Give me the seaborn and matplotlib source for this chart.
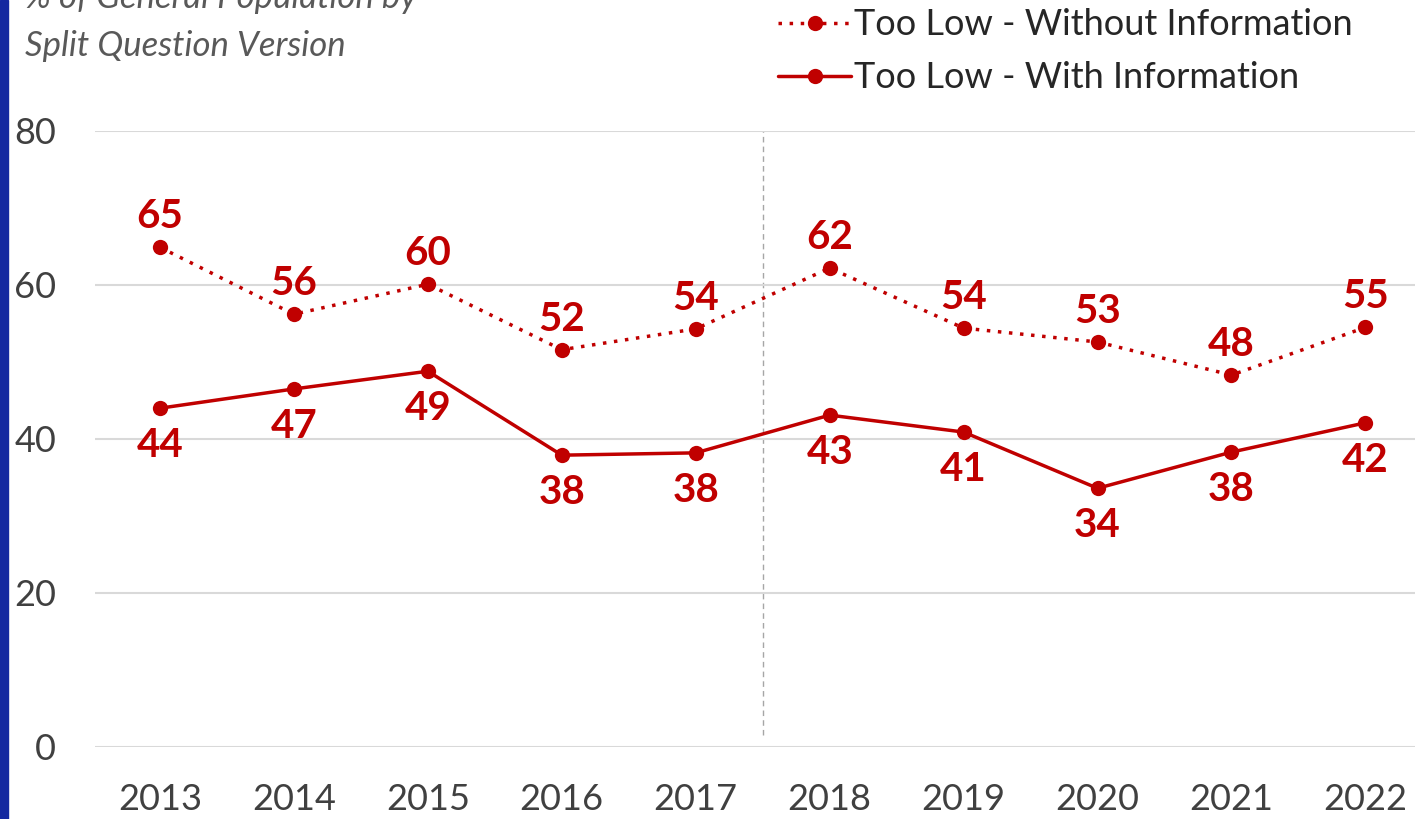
import matplotlib.pyplot as plt
import numpy as np
import pandas as pd
import seaborn as sns
from matplotlib.patches import Rectangle

# Values
years = [2013, 2014, 2015, 2016, 2017, 2018, 2019, 2020, 2021, 2022]
without_info = [64.9, 56.2, 60.1, 51.6, 54.3, 62.2, 54.4, 52.6, 48.3, 54.5]
without_labels = [65, 56, 60, 52, 54, 62, 54, 53, 48, 55]
with_info = [44.0, 46.5, 48.8, 37.9, 38.2, 43.1, 40.9, 33.6, 38.3, 42.1]
with_labels = [44, 47, 49, 38, 38, 43, 41, 34, 38, 42]
y_ticks = [0, 20, 40, 60, 80]

sns.set_style("white")
plt.rcParams["font.family"] = ["Lato", "DejaVu Sans"]

red = "#C00000"
tick_color = "#404040"

df = pd.DataFrame({
    "Year": years * 2,
    "Value": without_info + with_info,
    "Series": ["Too Low - Without Information"] * len(years)
    + ["Too Low - With Information"] * len(years),
})

W, H = 1415, 819
fig = plt.figure(figsize=(W / 100, H / 100), dpi=100)
ax = fig.add_axes([95 / W, 1 - 747 / H, (1415 - 95) / W, (747 - 131) / H])

sns.lineplot(data=df, x="Year", y="Value", hue="Series", style="Series",
             palette=[red, red], dashes=[(1, 2.2), ""], markers=["o", "o"],
             markersize=11, markeredgewidth=0, linewidth=2.5, ax=ax)

# data labels
for x, v, lab in zip(years, without_info, without_labels):
    ax.annotate(str(lab), (x, v), xytext=(0, 22), textcoords="offset points",
                ha="center", va="center", color=red, fontsize=29, fontweight="bold")
for x, v, lab in zip(years, with_info, with_labels):
    ax.annotate(str(lab), (x, v), xytext=(0, -27), textcoords="offset points",
                ha="center", va="center", color=red, fontsize=29, fontweight="bold")

# divider between 2017 and 2018
ax.plot([2017.5, 2017.5], [1.5, 80], color="#A6A6A6", linestyle=(0, (4, 3)),
        linewidth=1.0, zorder=0)

ax.set_ylim(0, 80)
ax.set_xlim(2012.515, 2022.37)
ax.set_yticks(y_ticks)
ax.set_xticks(years)
ax.yaxis.grid(True, color="#D9D9D9", linewidth=1.5)
ax.set_axisbelow(True)
for s in ax.spines.values():
    s.set_visible(False)
ax.tick_params(axis="y", length=0, pad=28, labelsize=26, labelcolor=tick_color)
ax.tick_params(axis="x", length=0, pad=26, labelsize=26, labelcolor=tick_color)
ax.set_xlabel("")
ax.set_ylabel("")

leg = ax.legend(loc="upper left", bbox_to_anchor=(764 / W, 1 + 6 / H), bbox_transform=fig.transFigure,
                frameon=False, fontsize=26, handlelength=2.0, handletextpad=0.1,
                labelspacing=0.55, borderaxespad=0, labelcolor="#262626")

sub_style = dict(ha="left", va="center", fontsize=25, style="italic", color="#595959")
fig.text(25 / W, 1 + 2 / H, "% of General Population by", **sub_style)
fig.text(25 / W, 1 - 46 / H, "Split Question Version", **sub_style)

fig.patches.append(Rectangle((0, 0), 8 / W, 1, transform=fig.transFigure,
                             color="#1428A0", zorder=10))

fig.savefig("out.png", dpi=100)
